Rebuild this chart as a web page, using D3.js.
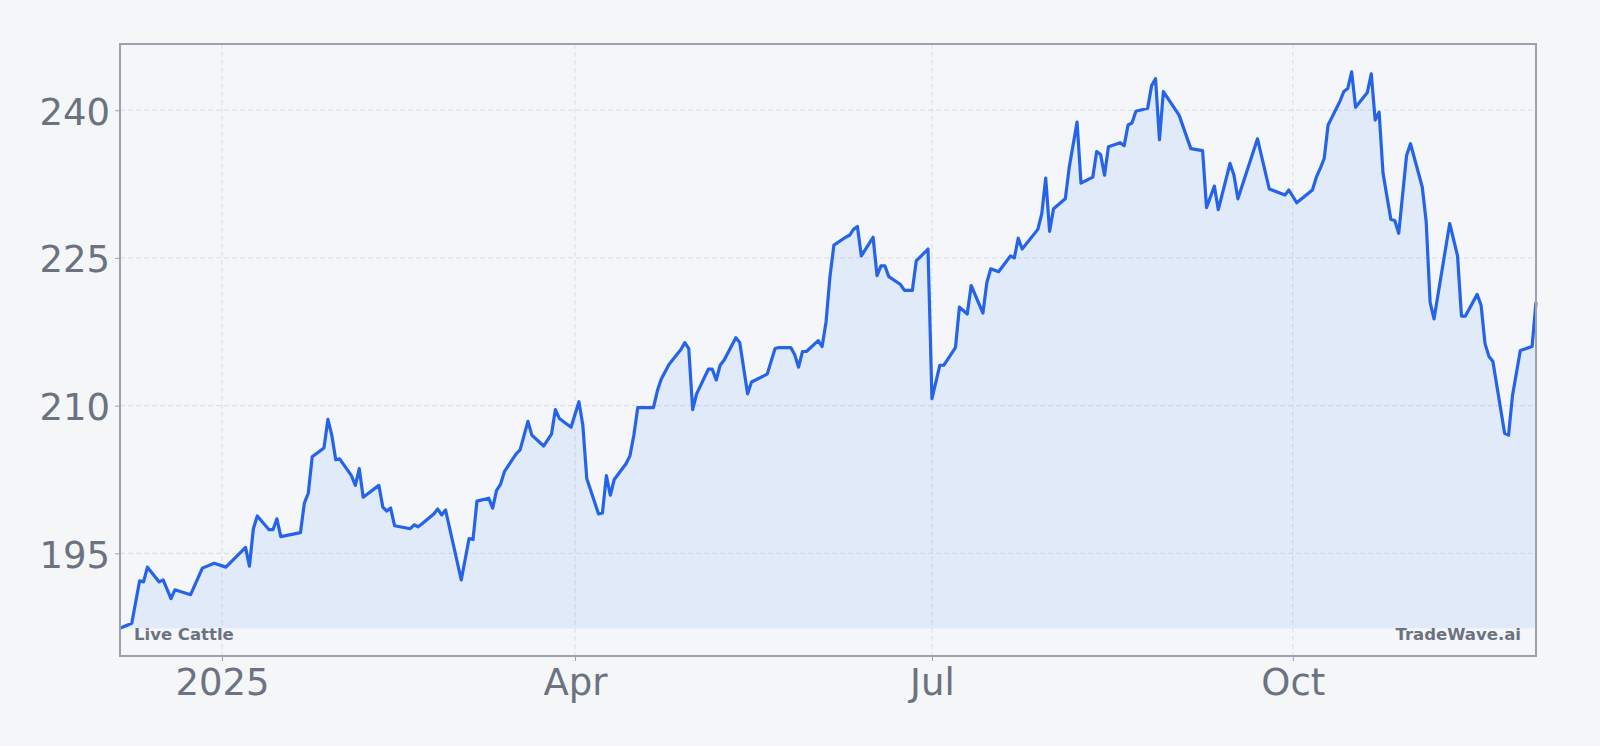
<!DOCTYPE html>
<html>
<head>
<meta charset="utf-8">
<script src="https://cdn.jsdelivr.net/npm/d3@7"></script>
<style>
    html, body { margin: 0; padding: 0; background: #f4f6f8; }
    svg { display: block; font-family: 'DejaVu Sans', sans-serif; }
</style>
</head>
<body>
<div class="vis-chart"></div>
<script>
// Live Cattle closes
const dates = [
    '2024-12-06', '2024-12-09', '2024-12-11', '2024-12-12', '2024-12-13', '2024-12-16', '2024-12-17', '2024-12-19',
    '2024-12-20', '2024-12-24', '2024-12-27', '2024-12-30', '2025-01-02', '2025-01-07', '2025-01-08', '2025-01-09',
    '2025-01-10', '2025-01-13', '2025-01-14', '2025-01-15', '2025-01-16', '2025-01-21', '2025-01-22', '2025-01-23',
    '2025-01-24', '2025-01-27', '2025-01-28', '2025-01-29', '2025-01-30', '2025-01-31', '2025-02-03', '2025-02-04',
    '2025-02-05', '2025-02-06', '2025-02-10', '2025-02-11', '2025-02-12', '2025-02-13', '2025-02-14', '2025-02-18',
    '2025-02-19', '2025-02-20', '2025-02-21', '2025-02-24', '2025-02-25', '2025-02-26', '2025-02-27', '2025-03-03',
    '2025-03-05', '2025-03-06', '2025-03-07', '2025-03-10', '2025-03-11', '2025-03-12', '2025-03-13', '2025-03-14',
    '2025-03-17', '2025-03-18', '2025-03-20', '2025-03-21', '2025-03-24', '2025-03-25', '2025-03-26', '2025-03-27',
    '2025-03-28', '2025-03-31', '2025-04-02', '2025-04-03', '2025-04-04', '2025-04-07', '2025-04-08', '2025-04-09',
    '2025-04-10', '2025-04-11', '2025-04-14', '2025-04-15', '2025-04-16', '2025-04-17', '2025-04-21', '2025-04-22',
    '2025-04-23', '2025-04-25', '2025-04-28', '2025-04-29', '2025-04-30', '2025-05-01', '2025-05-02', '2025-05-05',
    '2025-05-06', '2025-05-07', '2025-05-08', '2025-05-09', '2025-05-12', '2025-05-13', '2025-05-15', '2025-05-16',
    '2025-05-20', '2025-05-22', '2025-05-23', '2025-05-26', '2025-05-27', '2025-05-28', '2025-05-29', '2025-05-30',
    '2025-06-02', '2025-06-03', '2025-06-04', '2025-06-05', '2025-06-06', '2025-06-09', '2025-06-10', '2025-06-11',
    '2025-06-12', '2025-06-13', '2025-06-16', '2025-06-17', '2025-06-18', '2025-06-19', '2025-06-20', '2025-06-23',
    '2025-06-24', '2025-06-26', '2025-06-27', '2025-06-30', '2025-07-01', '2025-07-03', '2025-07-04', '2025-07-07',
    '2025-07-08', '2025-07-10', '2025-07-11', '2025-07-14', '2025-07-15', '2025-07-16', '2025-07-18', '2025-07-21',
    '2025-07-22', '2025-07-23', '2025-07-24', '2025-07-28', '2025-07-29', '2025-07-30', '2025-07-31', '2025-08-01',
    '2025-08-04', '2025-08-05', '2025-08-07', '2025-08-08', '2025-08-11', '2025-08-12', '2025-08-13', '2025-08-14',
    '2025-08-15', '2025-08-18', '2025-08-19', '2025-08-20', '2025-08-21', '2025-08-22', '2025-08-25', '2025-08-26',
    '2025-08-27', '2025-08-28', '2025-08-29', '2025-09-02', '2025-09-05', '2025-09-08', '2025-09-09', '2025-09-11',
    '2025-09-12', '2025-09-15', '2025-09-16', '2025-09-17', '2025-09-22', '2025-09-25', '2025-09-29', '2025-09-30',
    '2025-10-02', '2025-10-06', '2025-10-07', '2025-10-08', '2025-10-09', '2025-10-10', '2025-10-11', '2025-10-12',
    '2025-10-13', '2025-10-14', '2025-10-15', '2025-10-16', '2025-10-17', '2025-10-20', '2025-10-21', '2025-10-22',
    '2025-10-23', '2025-10-24', '2025-10-26', '2025-10-27', '2025-10-28', '2025-10-30', '2025-10-31', '2025-11-03',
    '2025-11-04', '2025-11-05', '2025-11-06', '2025-11-10', '2025-11-12', '2025-11-13', '2025-11-14', '2025-11-17',
    '2025-11-18', '2025-11-19', '2025-11-20', '2025-11-21', '2025-11-24', '2025-11-25', '2025-11-26', '2025-11-28',
    '2025-12-01', '2025-12-02'
];

const prices = [
    187.4, 187.9, 192.2, 192.1, 193.6, 192.1, 192.3, 190.4,
    191.3, 190.8, 193.5, 194.0, 193.6, 195.6, 193.7, 197.5,
    198.8, 197.4, 197.4, 198.5, 196.7, 197.1, 200.1, 201.1,
    204.8, 205.7, 208.6, 207.0, 204.5, 204.6, 202.9, 201.9,
    203.6, 200.7, 201.9, 199.7, 199.3, 199.6, 197.8, 197.5,
    197.9, 197.7, 198.0, 199.0, 199.5, 198.9, 199.4, 192.3,
    196.5, 196.4, 200.3, 200.6, 199.6, 201.4, 202.0, 203.3,
    205.1, 205.5, 208.4, 207.0, 205.9, 206.5, 207.1, 209.6,
    208.7, 207.8, 210.4, 208.0, 202.6, 199.0, 199.1, 202.9,
    200.9, 202.5, 204.1, 204.9, 207.0, 209.8, 209.8, 211.5,
    212.7, 214.2, 215.7, 216.4, 215.8, 209.6, 211.2, 213.7,
    213.7, 212.6, 214.1, 214.6, 216.9, 216.4, 211.2, 212.4,
    213.2, 215.8, 215.9, 215.9, 215.2, 213.9, 215.5, 215.5,
    216.6, 216.0, 218.5, 223.1, 226.3, 227.1, 227.3, 227.9,
    228.2, 225.2, 227.1, 223.2, 224.2, 224.2, 223.1, 222.3,
    221.7, 221.7, 224.7, 225.9, 210.7, 214.1, 214.1, 215.9,
    220.0, 219.3, 222.2, 219.4, 222.5, 223.9, 223.6, 225.2,
    225.0, 227.0, 225.9, 227.9, 229.5, 233.1, 227.7, 230.0,
    231.0, 234.2, 238.8, 232.6, 233.2, 235.8, 235.5, 233.4,
    236.3, 236.7, 236.4, 238.5, 238.7, 239.9, 240.2, 242.5,
    243.2, 237.0, 241.9, 239.5, 236.1, 235.9, 230.1, 232.3,
    229.9, 234.6, 233.4, 231.0, 237.1, 232.0, 231.4, 231.9,
    230.6, 231.9, 233.2, 234.1, 235.1, 238.5, 239.3, 240.1,
    240.9, 241.9, 242.2, 243.9, 240.3, 241.8, 243.7, 239.0,
    239.8, 233.6, 228.9, 228.8, 227.5, 235.4, 236.6, 232.2,
    228.7, 220.5, 218.8, 228.5, 225.2, 219.1, 219.1, 221.3,
    220.2, 216.3, 215.0, 214.5, 207.2, 207.0, 211.0, 215.6,
    216.0, 220.5
];

const yTicks = [195, 210, 225, 240];
const xTicks = ['2025-01-01', '2025-04-01', '2025-07-01', '2025-10-01'];
const xTickLabels = ['2025', 'Apr', 'Jul', 'Oct'];
const seriesName = 'Live Cattle';
const sourceName = 'TradeWave.ai';

const draw = () => {
    const margin = { top: 44, right: 64, bottom: 90, left: 120 };
    const width = 1600 - margin.left - margin.right;
    const height = 746 - margin.top - margin.bottom;
    const parse = d3.timeParse('%Y-%m-%d');

    const data = dates.map((d, i) => ({ date: parse(d), value: prices[i] }));

    const svg = d3.select('.vis-chart')
        .append('svg')
        .attr('width', width + margin.left + margin.right)
        .attr('height', height + margin.top + margin.bottom);

    const g = svg.append('g')
        .attr('transform', 'translate(' + margin.left + ',' + margin.top + ')');

    const x = d3.scaleTime()
        .domain(d3.extent(data, d => d.date))
        .range([0, width]);

    const minV = d3.min(prices);
    const maxV = d3.max(prices);
    const pad = (maxV - minV) * 0.05;
    const y = d3.scaleLinear()
        .domain([minV - pad, maxV + pad])
        .range([height, 0]);

    // plot background
    g.append('rect')
        .attr('width', width)
        .attr('height', height)
        .attr('fill', '#f4f6f9');

    // grid
    g.selectAll('.hgrid')
        .data(yTicks)
        .enter().append('line')
        .attr('class', 'hgrid')
        .attr('x1', 0).attr('x2', width)
        .attr('y1', d => y(d)).attr('y2', d => y(d))
        .attr('stroke', '#d9dde3')
        .attr('stroke-width', 1)
        .attr('stroke-dasharray', '5,3');

    g.selectAll('.vgrid')
        .data(xTicks.map(parse))
        .enter().append('line')
        .attr('class', 'vgrid')
        .attr('x1', d => x(d)).attr('x2', d => x(d))
        .attr('y1', 0).attr('y2', height)
        .attr('stroke', '#d9dde3')
        .attr('stroke-width', 1)
        .attr('stroke-dasharray', '5,3');

    // area + line
    const area = d3.area()
        .x(d => x(d.date))
        .y0(y(minV))
        .y1(d => y(d.value));

    g.append('path')
        .datum(data)
        .attr('d', area)
        .attr('fill', '#3b82f6')
        .attr('fill-opacity', 0.1);

    const line = d3.line()
        .x(d => x(d.date))
        .y(d => y(d.value));

    g.append('path')
        .datum(data)
        .attr('d', line)
        .attr('fill', 'none')
        .attr('stroke', '#2563eb')
        .attr('stroke-width', 3.2)
        .attr('stroke-linejoin', 'round');

    // axes
    const yAxis = g.append('g')
        .call(d3.axisLeft(y).tickValues(yTicks).tickSize(5).tickPadding(5));
    yAxis.select('.domain').remove();
    yAxis.selectAll('line').attr('stroke', '#9ca3af');
    yAxis.selectAll('text')
        .attr('fill', '#6b7280')
        .attr('dy', '0.38em')
        .style('font-size', '37px')
        .style('font-family', "'DejaVu Sans', sans-serif");

    const xAxis = g.append('g')
        .attr('transform', 'translate(0,' + height + ')')
        .call(d3.axisBottom(x)
            .tickValues(xTicks.map(parse))
            .tickFormat((d, i) => xTickLabels[i])
            .tickSize(5)
            .tickPadding(8));
    xAxis.select('.domain').remove();
    xAxis.selectAll('line').attr('stroke', '#9ca3af');
    xAxis.selectAll('text')
        .attr('fill', '#6b7280')
        .style('font-size', '37px')
        .style('font-family', "'DejaVu Sans', sans-serif");

    // frame
    g.append('rect')
        .attr('width', width)
        .attr('height', height)
        .attr('fill', 'none')
        .attr('stroke', '#9ca3af')
        .attr('stroke-width', 2);

    // corner labels
    g.append('text')
        .text(seriesName)
        .attr('x', 14)
        .attr('y', height - 16)
        .attr('fill', '#6b7280')
        .style('font-size', '16.5px')
        .style('font-weight', 'bold');

    g.append('text')
        .text(sourceName)
        .attr('x', width - 15)
        .attr('y', height - 16)
        .attr('text-anchor', 'end')
        .attr('fill', '#6b7280')
        .style('font-size', '16.5px')
        .style('font-weight', 'bold');
};

draw();
</script>
</body>
</html>
